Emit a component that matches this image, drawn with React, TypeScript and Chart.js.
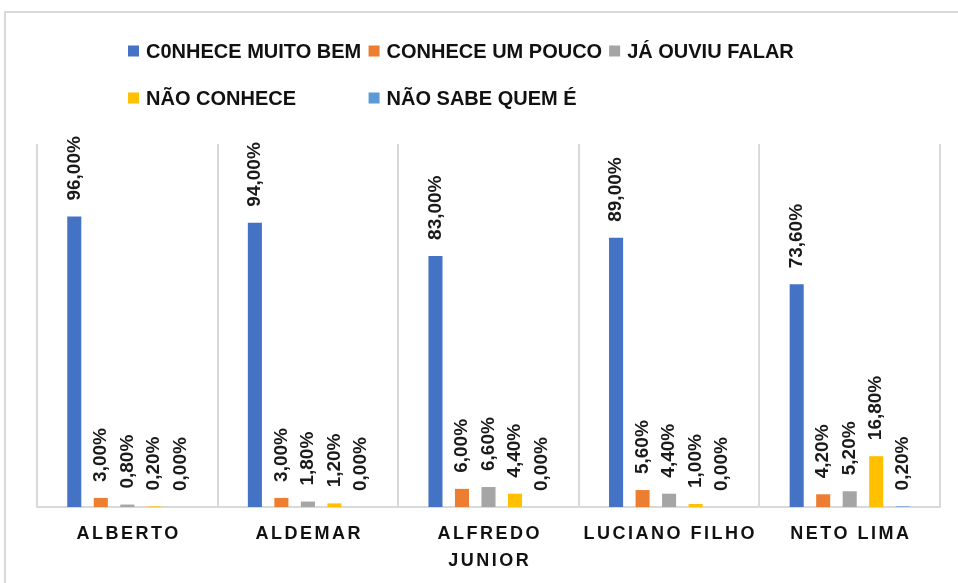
import React, { useEffect, useRef } from "react";
import { Chart, registerables } from "chart.js";

Chart.register(...registerables);

const categories: string[][] = [
  ["ALBERTO"],
  ["ALDEMAR"],
  ["ALFREDO", "JUNIOR"],
  ["LUCIANO FILHO"],
  ["NETO LIMA"],
];

const seriesNames = [
  "C0NHECE MUITO BEM",
  "CONHECE UM POUCO",
  "JÁ OUVIU FALAR",
  "NÃO CONHECE",
  "NÃO SABE QUEM É",
];

const conheceMuitoBem = [96.0, 94.0, 83.0, 89.0, 73.6];
const conheceUmPouco = [3.0, 3.0, 6.0, 5.6, 4.2];
const jaOuviuFalar = [0.8, 1.8, 6.6, 4.4, 5.2];
const naoConhece = [0.2, 1.2, 4.4, 1.0, 16.8];
const naoSabeQuemE = [0.0, 0.0, 0.0, 0.0, 0.2];

const seriesColors = ["#4472C4", "#ED7D31", "#A5A5A5", "#FFC000", "#5B9BD5"];

const yMax = 120;

const FONT = '"Liberation Sans", Arial, sans-serif';

const fmt = (v: number) => v.toFixed(2).replace(".", ",") + "%";

const framePlugin = {
  id: "frame",
  beforeDraw(chart: any) {
    const ctx = chart.ctx;
    ctx.save();
    ctx.fillStyle = "#ffffff";
    ctx.fillRect(0, 0, chart.width, chart.height);
    ctx.strokeStyle = "#d9d9d9";
    ctx.lineWidth = 2;
    ctx.beginPath();
    ctx.moveTo(5, chart.height);
    ctx.lineTo(5, 12);
    ctx.lineTo(chart.width, 12);
    ctx.stroke();
    ctx.restore();
  },
};

const legendPlugin = {
  id: "customLegend",
  afterDraw(chart: any) {
    const ctx = chart.ctx;
    ctx.save();
    ctx.font = `bold 20px ${FONT}`;
    ctx.textBaseline = "middle";
    ctx.textAlign = "left";
    const box = 11;
    const gapBoxText = 7;
    const widths = seriesNames.map((n) => box + gapBoxText + ctx.measureText(n).width);
    const colW = Math.max(...widths) + 7;
    const startX = 128;
    const rows = [51, 98];
    seriesNames.forEach((name, i) => {
      const row = Math.floor(i / 3);
      const col = i % 3;
      const x = startX + col * colW;
      const y = rows[row];
      ctx.fillStyle = seriesColors[i];
      ctx.fillRect(x, y - box / 2, box, box);
      ctx.fillStyle = "#111111";
      ctx.fillText(name, x + box + gapBoxText, y + 1);
    });
    ctx.restore();
  },
};

const valueLabelPlugin = {
  id: "valueLabels",
  afterDatasetsDraw(chart: any) {
    const ctx = chart.ctx;
    ctx.save();
    ctx.font = `bold 19px ${FONT}`;
    ctx.fillStyle = "#1a1a1a";
    ctx.textAlign = "left";
    ctx.textBaseline = "middle";
    chart.data.datasets.forEach((ds: any, di: number) => {
      const meta = chart.getDatasetMeta(di);
      meta.data.forEach((el: any, i: number) => {
        const v = ds.data[i];
        ctx.save();
        ctx.translate(el.x, el.y - 16);
        ctx.rotate(-Math.PI / 2);
        ctx.fillText(fmt(v), 0, 0);
        ctx.restore();
      });
    });
    ctx.restore();
  },
};

const xLabelPlugin = {
  id: "xLabels",
  afterDraw(chart: any) {
    const ctx = chart.ctx;
    const xs = chart.scales.x;
    const ls = 2.5;
    ctx.save();
    ctx.font = `bold 18px ${FONT}`;
    (ctx as any).letterSpacing = `${ls}px`;
    ctx.fillStyle = "#111111";
    ctx.textAlign = "center";
    ctx.textBaseline = "middle";
    categories.forEach((lines, i) => {
      const x = xs.getPixelForValue(i);
      lines.forEach((line, j) => {
        ctx.fillText(line, x + ls / 2, 534 + j * 27);
      });
    });
    ctx.restore();
  },
};

export default function App() {
  const ref = useRef<HTMLCanvasElement | null>(null);

  useEffect(() => {
    if (!ref.current) return;
    const data = [conheceMuitoBem, conheceUmPouco, jaOuviuFalar, naoConhece, naoSabeQuemE];
    const chart = new Chart(ref.current, {
      type: "bar",
      data: {
        labels: categories.map((c) => c.join(" ")),
        datasets: seriesNames.map((name, i) => ({
          label: name,
          data: data[i],
          backgroundColor: seriesColors[i],
          borderWidth: 0,
          categoryPercentage: 0.734,
          barPercentage: 0.53,
        })),
      },
      options: {
        responsive: false,
        animation: false,
        maintainAspectRatio: false,
        layout: { padding: { left: 37, right: 18, top: 144, bottom: 76 } },
        plugins: {
          legend: { display: false },
          tooltip: { enabled: false },
          title: { display: false },
        },
        scales: {
          x: {
            display: true,
            ticks: { display: false },
            grid: {
              offset: true,
              drawTicks: false,
              color: "#d9d9d9",
              lineWidth: 2,
            },
            border: { color: "#d9d9d9", width: 2 },
          },
          y: {
            display: false,
            min: 0,
            max: yMax,
          },
        },
      },
      plugins: [framePlugin, legendPlugin, valueLabelPlugin, xLabelPlugin],
    });
    return () => chart.destroy();
  }, []);

  return (
    <div style={{ position: "fixed", left: 0, top: 0, width: 958, height: 583, background: "#fff" }}>
      <canvas ref={ref} width={958} height={583} style={{ display: "block" }} />
    </div>
  );
}
